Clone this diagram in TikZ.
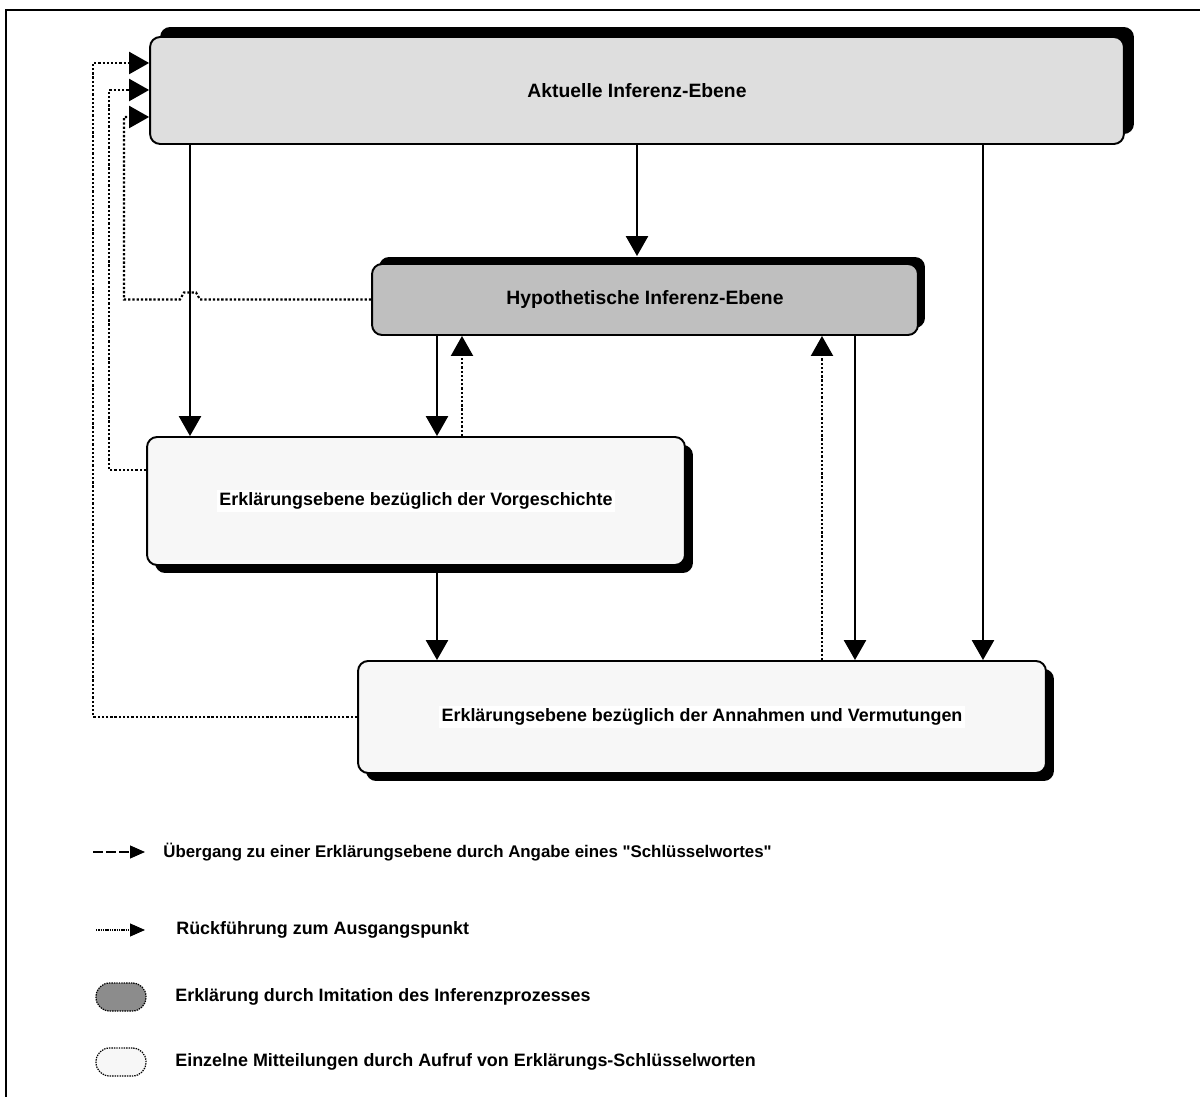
\documentclass[tikz,border=0pt]{standalone}
\usepackage{fontspec}
\setmainfont{Liberation Sans}[Ligatures=TeXOff]
\usetikzlibrary{arrows.meta,shadows,calc}

\definecolor{aktfill}{gray}{0.87}
\definecolor{hypfill}{gray}{0.75}
\definecolor{erkfill}{gray}{0.97}
\definecolor{legdark}{gray}{0.55}

\newcommand{\wbox}[1]{{\setlength{\fboxsep}{1.5pt}\colorbox{white}{#1}}}

\tikzset{
  level/.style={draw, line width=1.1pt, rounded corners=0.2cm, inner sep=0pt,
                font=\bfseries\fontsize{10.2}{12}\selectfont},
  upshadow/.style={drop shadow={shadow xshift=#1, shadow yshift=#1, opacity=1, fill=black}},
  downshadow/.style={drop shadow={shadow xshift=#1, shadow yshift=-#1, opacity=1, fill=black}},
  flow/.style={line width=1.5pt, -{Triangle[length=0.4cm,width=0.44cm]}},
  back/.style={flow, line width=1.2pt, dash pattern=on 1.3pt off 1.1pt},
  legtext/.style={anchor=west, inner xsep=0pt, font=\bfseries\fontsize{10.2}{12}\selectfont},
  legdash/.style={line width=0.7pt, dash pattern=on 5.5pt off 2pt, -{Triangle[length=0.3cm,width=0.26cm]}},
  legdot/.style={line width=0.6pt, dash pattern=on 0.8pt off 0.5pt, -{Triangle[length=0.3cm,width=0.26cm]}},
  capsule/.style={draw, line width=0.7pt, dash pattern=on 0.8pt off 0.6pt, rounded corners=0.27cm,
                  minimum width=1cm, minimum height=0.56cm}
}

\begin{document}
\begin{tikzpicture}[x=0.02cm, y=-0.02cm]
  \useasboundingbox (0,0) rectangle (1200,1097);
  \draw[line width=1.5pt] (6,1097) -- (6,10) -- (1200,10);

  % the four levels
  \node[level, upshadow=0.2cm, fill=aktfill, minimum width=19.48cm, minimum height=2.14cm,
        font=\bfseries\fontsize{11}{13}\selectfont]
    (akt) at (637,90.5) {Aktuelle Inferenz-Ebene};
  \node[level, upshadow=0.14cm, fill=hypfill, minimum width=10.92cm, minimum height=1.42cm,
        font=\bfseries\fontsize{11}{13}\selectfont]
    (hyp) at (645,299.5) {Hypothetische Inferenz-Ebene};
  \node[level, downshadow=0.16cm, fill=erkfill, minimum width=10.76cm, minimum height=2.56cm]
    (vorg) at (416,501) {\wbox{Erklärungsebene bezüglich der Vorgeschichte}};
  \node[level, downshadow=0.16cm, fill=erkfill, minimum width=13.76cm, minimum height=2.24cm]
    (ann) at (702,717) {\wbox{Erklärungsebene bezüglich der Annahmen und Vermutungen}};

  % columns and return lanes
  \coordinate (ca) at (190,0);
  \coordinate (cb) at (437,0);
  \coordinate (cc) at (462,0);
  \coordinate (cd) at (637,0);
  \coordinate (ce) at (822,0);
  \coordinate (cf) at (855,0);
  \coordinate (cg) at (983,0);
  \coordinate (l1) at (93,63);
  \coordinate (l2) at (109,90);
  \coordinate (l3) at (124,117);

  \draw[flow] (akt.south -| ca) -- (vorg.north -| ca);
  \draw[flow, shorten >=0.14cm] (akt.south -| cd) -- (hyp.north -| cd);
  \draw[flow] (akt.south -| cg) -- (ann.north -| cg);
  \draw[flow] (hyp.south -| cb) -- (vorg.north -| cb);
  \draw[back] (vorg.north -| cc) -- (hyp.south -| cc);
  \draw[flow] (hyp.south -| cf) -- (ann.north -| cf);
  \draw[back] (ann.north -| ce) -- (hyp.south -| ce);
  \draw[flow] (vorg.south -| cb) -- (ann.north -| cb);

  % back to the current level
  \draw[back] (hyp.west) -- ($(hyp.west -| ca)+(10,0)$) -- ++(-4,-7) -- ++(-12,0) -- ++(-4,7)
    -- (hyp.west -| l3) |- (akt.west |- l3);
  \draw[back] ([yshift=0.62cm]vorg.west) -| (l2) -- (akt.west |- l2);
  \draw[back] (ann.west) -| (l1) -- (akt.west |- l1);

  % legend
  \node[legtext, font=\bfseries\fontsize{9.6}{12}\selectfont] (t1) at (163,852)
    {Übergang zu einer Erklärungsebene durch Angabe eines "Schlüsselwortes"};
  \node[legtext] (t2) at (176,930) {Rückführung zum Ausgangspunkt};
  \node[legtext] (t3) at (175,997) {Erklärung durch Imitation des Inferenzprozesses};
  \node[legtext] (t4) at (175,1062) {Einzelne Mitteilungen durch Aufruf von Erklärungs-Schlüsselworten};
  \draw[legdash] ($(t1.west)+(-70,0)$) -- ($(t1.west)+(-18,0)$);
  \draw[legdot] ($(t2.west)+(-80,0)$) -- ($(t2.west)+(-31,0)$);
  \node[capsule, fill=legdark] (k1) at (121,997) {};
  \node[capsule, fill=erkfill] (k2) at (121,1062) {};
\end{tikzpicture}
\end{document}
